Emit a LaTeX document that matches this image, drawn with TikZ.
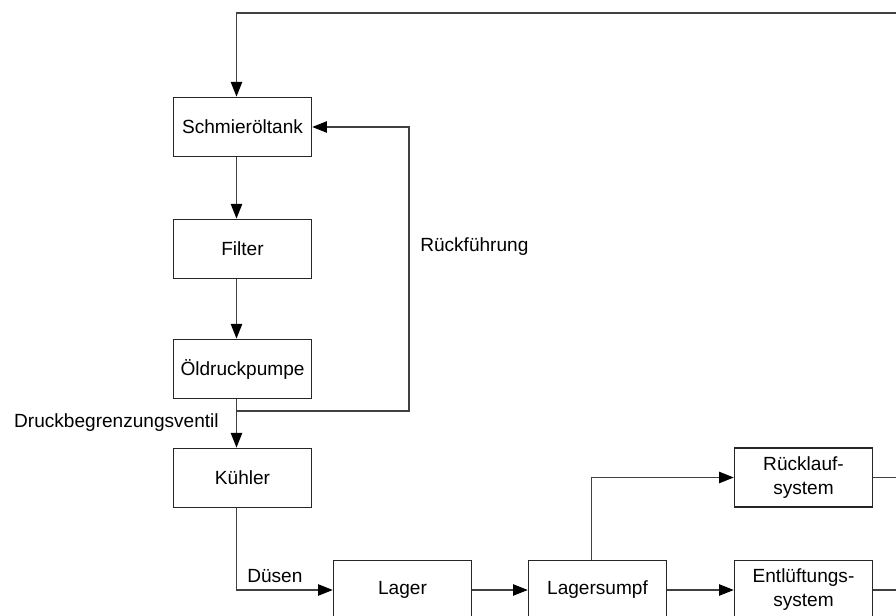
\documentclass[tikz,border=0pt]{standalone}
\usepackage{fontspec}
\setmainfont{Liberation Sans}
\usetikzlibrary{arrows.meta}

\begin{document}
\begin{tikzpicture}[x=0.75pt,y=-0.75pt,
  box/.style={rectangle,draw=black!85,line width=1.1pt,minimum width=103.5pt,minimum height=44.5pt,
    align=center,fill=white,font=\fontsize{14.3}{18}\selectfont},
  lbl/.style={inner sep=0pt,font=\fontsize{14.3}{18}\selectfont},
  pipe/.style={draw=black!75,line width=0.9pt},
  flow/.style={pipe,-{Triangle[length=11pt,width=8.5pt,fill=black,color=black]}}]
\clip (0,0) rectangle (896,615);
% Kreislauf links
\node[box] (tank) at (242.5,127) {Schmieröltank};
\node[box] (filter) at (242.5,249) {Filter};
\node[box] (pumpe) at (242.5,369) {Öldruckpumpe};
\node[box] (kuehler) at (242.5,478) {Kühler};
% unten
\node[box] (lager) at (402.5,590) {Lager};
\node[box] (sumpf) at (597.5,590) {Lagersumpf};
\node[box] (ruecklauf) at (803.5,477.5) {Rücklauf-\\system};
\node[box] (entlueft) at (803.5,590) {Entlüftungs-\\system};
% Beschriftungen
\node[lbl,anchor=base west] (rf) at (420,251) {Rückführung};
\node[lbl,anchor=base east] (dbv) at (219,427) {Druckbegrenzungsventil};
\node[lbl,anchor=base west] (duesen) at (247,582) {Düsen};
\coordinate (oben) at (896,13);
\coordinate (ventil) at (236.5,411);
\coordinate (rueck) at (409,411);
\coordinate (rechtsA) at (896,477.5);
\coordinate (rechtsB) at (896,590);

\draw[flow] (oben) -| ([xshift=-4.5pt]tank.north);
\draw[flow] ([xshift=-4.5pt]tank.south) -- ([xshift=-4.5pt]filter.north);
\draw[flow] ([xshift=-4.5pt]filter.south) -- ([xshift=-4.5pt]pumpe.north);
\draw[flow] ([xshift=-4.5pt]pumpe.south) -- ([xshift=-4.5pt]kuehler.north);
\draw[flow] (ventil) -- (rueck) |- (tank.east);
\draw[flow] ([xshift=-4.5pt]kuehler.south) |- (lager.west);
\draw[flow] (lager) -- (sumpf);
\draw[flow] ([xshift=-4.5pt]sumpf.north) |- (ruecklauf.west);
\draw[flow] (sumpf) -- (entlueft);
\draw[pipe] (ruecklauf.east) -- (rechtsA);
\draw[pipe] (entlueft.east) -- (rechtsB);
\end{tikzpicture}
\end{document}
